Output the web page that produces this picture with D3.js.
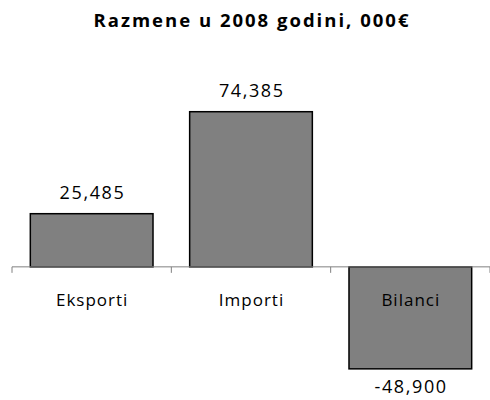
<!DOCTYPE html>
<html>
<head>
<meta charset="utf-8">
<script src="https://cdn.jsdelivr.net/npm/d3@7"></script>
<style>
  body { margin: 0; background: #fff; }
  text { font-family: "Open Sans", "Noto Sans", sans-serif; fill: #000; }
</style>
</head>
<body>
<svg id="chart"></svg>
<script>
const categories = ["Eksporti", "Importi", "Bilanci"];
const values = [25485, 74385, -48900];
const valueLabels = ["25,485", "74,385", "-48,900"];
const title = "Razmene u 2008 godini, 000€";

const width = 490, height = 400;

const svg = d3.select("#chart")
              .attr("width", width)
              .attr("height", height);

const x = d3.scaleBand()
    .domain(categories)
    .range([12, 490])
    .paddingInner(0.23)
    .paddingOuter(0.115);

const y = d3.scaleLinear()
    .domain([-60000, 80000])
    .range([392, 100]);

svg.append("text")
   .attr("x", 252)
   .attr("y", 27)
   .attr("text-anchor", "middle")
   .style("font-weight", "bold")
   .style("font-size", "18.5px")
   .style("letter-spacing", "2px")
   .text(title);

const data = categories.map((c, i) => ({ cat: c, value: values[i], label: valueLabels[i] }));

svg.append("g")
   .selectAll("rect")
   .data(data)
   .enter()
   .append("rect")
   .attr("x", d => x(d.cat))
   .attr("width", x.bandwidth())
   .attr("y", d => y(Math.max(0, d.value)))
   .attr("height", d => Math.abs(y(d.value) - y(0)))
   .attr("fill", "#808080")
   .attr("stroke", "#000")
   .attr("stroke-width", 1.5);

// zero line with ticks between categories
const zero = y(0);
const tickX = d3.range(categories.length + 1).map(i => 12 + i * (478 / categories.length));
svg.append("line")
   .attr("x1", 12).attr("x2", 490)
   .attr("y1", zero).attr("y2", zero)
   .attr("stroke", "#808080").attr("stroke-width", 1);
svg.append("g")
   .selectAll("line")
   .data(tickX)
   .enter()
   .append("line")
   .attr("x1", d => d).attr("x2", d => d)
   .attr("y1", zero).attr("y2", zero + 6)
   .attr("stroke", "#808080");

// category labels
svg.append("g")
   .selectAll("text")
   .data(data)
   .enter()
   .append("text")
   .attr("x", d => x(d.cat) + x.bandwidth() / 2 + 0.5)
   .attr("y", zero + 39)
   .attr("text-anchor", "middle")
   .style("font-size", "17px")
   .style("letter-spacing", "1px")
   .text(d => d.cat);

// value labels
svg.append("g")
   .selectAll("text")
   .data(data)
   .enter()
   .append("text")
   .attr("x", d => x(d.cat) + x.bandwidth() / 2 + 0.8)
   .attr("y", d => d.value >= 0 ? y(d.value) - 15 : y(d.value) + 24)
   .attr("text-anchor", "middle")
   .style("font-size", "18px")
   .style("letter-spacing", "1.6px")
   .text(d => d.label);
</script>
</body>
</html>
